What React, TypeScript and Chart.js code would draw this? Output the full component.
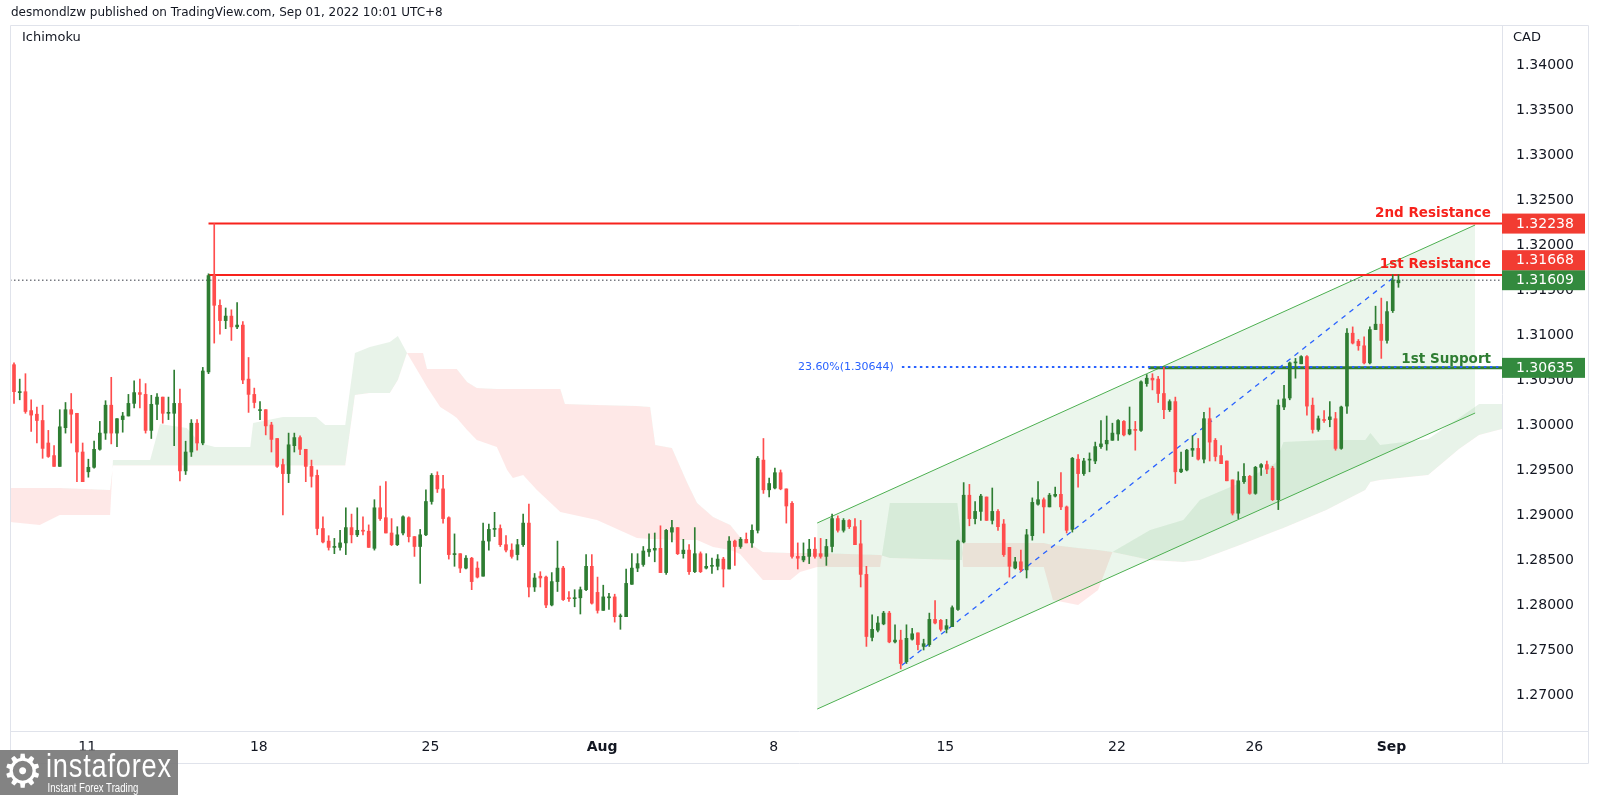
import React, { useEffect, useRef } from 'react';
import { Chart, registerables } from 'chart.js';

Chart.register(...registerables);

// ---------- Candles (USDCAD 4H) ----------
const opens = [
  1.3067, 1.3036, 1.3037, 1.3016, 1.3012, 1.3005, 1.2980, 1.2966, 1.2954, 1.2997,
  1.3017, 1.3013, 1.2970, 1.2948, 1.2953, 1.2973, 1.2991, 1.3022, 1.2991, 1.3006,
  1.3010, 1.3024, 1.3036, 1.3034, 1.2994, 1.3023, 1.3031, 1.3013, 1.3013, 1.3024,
  1.2949, 1.2970, 1.3002, 1.2980, 1.3059, 1.3166, 1.3133, 1.3116, 1.3121, 1.3109,
  1.3111, 1.3051, 1.3034, 1.3016, 1.3017, 1.3000, 1.2985, 1.2956, 1.2946, 1.2977,
  1.2986, 1.2973, 1.2954, 1.2944, 1.2885, 1.2871, 1.2864, 1.2864, 1.2869, 1.2886,
  1.2878, 1.2883, 1.2882, 1.2863, 1.2908, 1.2897, 1.2880, 1.2867, 1.2880, 1.2897,
  1.2876, 1.2865, 1.2878, 1.2915, 1.2944, 1.2929, 1.2897, 1.2856, 1.2857, 1.2841,
  1.2852, 1.2841, 1.2832, 1.2871, 1.2884, 1.2885, 1.2867, 1.2861, 1.2856, 1.2867,
  1.2891, 1.2820, 1.2832, 1.2831, 1.2800, 1.2826, 1.2841, 1.2808, 1.2807, 1.2808,
  1.2817, 1.2843, 1.2814, 1.2794, 1.2808, 1.2809, 1.2787, 1.2787, 1.2823, 1.2841,
  1.2845, 1.2859, 1.2861, 1.2863, 1.2836, 1.2881, 1.2886, 1.2857, 1.2861, 1.2837,
  1.2857, 1.2841, 1.2843, 1.2843, 1.2851, 1.2840, 1.2871, 1.2865, 1.2873, 1.2869,
  1.2883, 1.2961, 1.2928, 1.2930, 1.2947, 1.2929, 1.2913, 1.2854, 1.2850, 1.2854,
  1.2862, 1.2857, 1.2854, 1.2865, 1.2896, 1.2883, 1.2894, 1.2887, 1.2868, 1.2834,
  1.2764, 1.2772, 1.2779, 1.2791, 1.2759, 1.2761, 1.2737, 1.2762, 1.2769, 1.2754,
  1.2756, 1.2784, 1.2783, 1.2773, 1.2776, 1.2795, 1.2870, 1.2922, 1.2896, 1.2904,
  1.2920, 1.2894, 1.2904, 1.2890, 1.2864, 1.2841, 1.2848, 1.2839, 1.2877, 1.2912,
  1.2917, 1.2909, 1.2921, 1.2923, 1.2909, 1.2884, 1.2962, 1.2946, 1.2961, 1.2960,
  1.2976, 1.2979, 1.2983, 1.2990, 1.3004, 1.2990, 1.2995, 1.2994, 1.3046, 1.3052,
  1.3051, 1.3035, 1.3017, 1.3026, 1.2948, 1.2950, 1.2972, 1.2974, 1.2962, 1.3007,
  1.2983, 1.2966, 1.2960, 1.2939, 1.2902, 1.2937, 1.2943, 1.2924, 1.2953, 1.2956,
  1.2952, 1.2917, 1.3020, 1.3030, 1.3069, 1.3068, 1.3076, 1.3022, 1.2995, 1.3006,
  1.3006, 1.3007, 1.2974, 1.3021, 1.3102, 1.3093, 1.3088, 1.3069, 1.3106, 1.3112,
  1.3094, 1.3127, 1.3158,
];
const highs = [
  1.3069, 1.3051, 1.3057, 1.3028, 1.3020, 1.3022, 1.2994, 1.2977, 1.3017, 1.3025,
  1.3035, 1.3013, 1.2980, 1.2962, 1.2982, 1.3004, 1.3027, 1.3053, 1.3007, 1.3014,
  1.3034, 1.3049, 1.3051, 1.3046, 1.3033, 1.3035, 1.3031, 1.3031, 1.3061, 1.3040,
  1.2982, 1.3006, 1.3006, 1.3064, 1.3168, 1.32238, 1.3139, 1.3130, 1.3128, 1.3136,
  1.3115, 1.3075, 1.3041, 1.3026, 1.3017, 1.3003, 1.2985, 1.2962, 1.2991, 1.2991,
  1.2988, 1.2973, 1.2961, 1.2950, 1.2898, 1.2877, 1.2874, 1.2883, 1.2908, 1.2901,
  1.2908, 1.2898, 1.2889, 1.2917, 1.2932, 1.2937, 1.2896, 1.2887, 1.2899, 1.2898,
  1.2876, 1.2884, 1.2928, 1.2946, 1.2948, 1.2944, 1.2898, 1.2879, 1.2857, 1.2855,
  1.2853, 1.2848, 1.2891, 1.2890, 1.2903, 1.2889, 1.2877, 1.2868, 1.2873, 1.2901,
  1.2912, 1.2835, 1.2837, 1.2832, 1.2836, 1.2871, 1.2843, 1.2815, 1.2817, 1.2820,
  1.2856, 1.2856, 1.2831, 1.2822, 1.2813, 1.2812, 1.2790, 1.2840, 1.2857, 1.2857,
  1.2865, 1.2879, 1.2880, 1.2888, 1.2884, 1.2894, 1.2886, 1.2873, 1.2867, 1.2886,
  1.2859, 1.2857, 1.2852, 1.2856, 1.2853, 1.2876, 1.2872, 1.2875, 1.2880, 1.2889,
  1.2965, 1.2985, 1.2941, 1.2952, 1.2950, 1.2929, 1.2915, 1.2869, 1.2869, 1.2873,
  1.2875, 1.2874, 1.2873, 1.2901, 1.2899, 1.2896, 1.2895, 1.2896, 1.2894, 1.2843,
  1.2789, 1.2787, 1.2793, 1.2793, 1.2778, 1.2772, 1.2778, 1.2774, 1.2769, 1.2762,
  1.2791, 1.2805, 1.2784, 1.2784, 1.2799, 1.2872, 1.2936, 1.2934, 1.2915, 1.2923,
  1.2920, 1.2930, 1.2906, 1.2895, 1.2864, 1.2853, 1.2861, 1.2884, 1.2919, 1.2937,
  1.2919, 1.2924, 1.2931, 1.2947, 1.2910, 1.2964, 1.2967, 1.2963, 1.2969, 1.2981,
  1.3005, 1.3010, 1.3002, 1.3006, 1.3005, 1.3020, 1.3004, 1.3049, 1.3056, 1.3057,
  1.3054, 1.3064, 1.3028, 1.3031, 1.2970, 1.2973, 1.2988, 1.2985, 1.3014, 1.3019,
  1.2985, 1.2977, 1.2960, 1.2939, 1.2948, 1.2957, 1.2944, 1.2954, 1.2957, 1.2960,
  1.2954, 1.3028, 1.3044, 1.3070, 1.3074, 1.3077, 1.3077, 1.3030, 1.3010, 1.3016,
  1.3026, 1.3014, 1.3021, 1.3107, 1.3109, 1.3095, 1.3098, 1.3109, 1.3132, 1.3141,
  1.3137, 1.3167, 1.3167,
];
const lows = [
  1.3024, 1.3028, 1.3013, 1.2993, 1.2980, 1.2963, 1.2964, 1.2954, 1.2954, 1.2991,
  1.2980, 1.2937, 1.2937, 1.2942, 1.2952, 1.2972, 1.2984, 1.2979, 1.2976, 1.2992,
  1.3010, 1.3019, 1.3019, 1.2991, 1.2985, 1.3006, 1.3002, 1.3006, 1.2977, 1.2938,
  1.2945, 1.2965, 1.2972, 1.2978, 1.3057, 1.3091, 1.3101, 1.3107, 1.3094, 1.3107,
  1.3046, 1.3014, 1.3019, 1.3006, 1.2989, 1.2970, 1.2953, 1.2900, 1.2936, 1.2970,
  1.2967, 1.2937, 1.2931, 1.2878, 1.2869, 1.2861, 1.2857, 1.2861, 1.2856, 1.2869,
  1.2876, 1.2878, 1.2864, 1.2861, 1.2894, 1.2880, 1.2866, 1.2866, 1.2878, 1.2870,
  1.2854, 1.2824, 1.2877, 1.2912, 1.2925, 1.2891, 1.2851, 1.2843, 1.2836, 1.2840,
  1.2817, 1.2830, 1.2832, 1.2861, 1.2876, 1.2865, 1.2859, 1.2852, 1.2850, 1.2865,
  1.2809, 1.2815, 1.2820, 1.2797, 1.2799, 1.2815, 1.2805, 1.2804, 1.2798, 1.2790,
  1.2816, 1.2801, 1.2791, 1.2794, 1.2795, 1.2781, 1.2773, 1.2787, 1.2823, 1.2837,
  1.2843, 1.2854, 1.2848, 1.2836, 1.2834, 1.2870, 1.2856, 1.2852, 1.2834, 1.2836,
  1.2836, 1.2840, 1.2835, 1.2839, 1.2820, 1.2840, 1.2844, 1.2863, 1.2869, 1.2864,
  1.2880, 1.2924, 1.2920, 1.2929, 1.2928, 1.2891, 1.2852, 1.2840, 1.2848, 1.2846,
  1.2852, 1.2852, 1.2844, 1.2859, 1.2881, 1.2881, 1.2885, 1.2867, 1.2820, 1.2754,
  1.2760, 1.2770, 1.2778, 1.2758, 1.2758, 1.2729, 1.2735, 1.2761, 1.2750, 1.2750,
  1.2754, 1.2779, 1.2771, 1.2769, 1.2776, 1.2794, 1.2869, 1.2888, 1.2890, 1.2894,
  1.2894, 1.2890, 1.2883, 1.2854, 1.2831, 1.2840, 1.2837, 1.2830, 1.2872, 1.2911,
  1.2880, 1.2909, 1.2920, 1.2906, 1.2880, 1.2881, 1.2931, 1.2944, 1.2948, 1.2957,
  1.2974, 1.2972, 1.2983, 1.2983, 1.2988, 1.2989, 1.2972, 1.2993, 1.3043, 1.3039,
  1.3025, 1.3007, 1.3015, 1.2935, 1.2947, 1.2949, 1.2965, 1.2961, 1.2958, 1.2960,
  1.2960, 1.2957, 1.2938, 1.2900, 1.2896, 1.2935, 1.2923, 1.2923, 1.2944, 1.2946,
  1.2916, 1.2906, 1.3017, 1.3028, 1.3052, 1.3068, 1.3011, 1.2991, 1.2993, 1.3003,
  1.2998, 1.2972, 1.2973, 1.3013, 1.3090, 1.3083, 1.3068, 1.3068, 1.3106, 1.3074,
  1.3091, 1.3125, 1.3153,
];
const closes = [
  1.3037, 1.3037, 1.3015, 1.3011, 1.3005, 1.2974, 1.2965, 1.2954, 1.2998, 1.3017,
  1.3012, 1.2970, 1.2937, 1.2953, 1.2973, 1.2991, 1.3022, 1.2991, 1.3007, 1.3010,
  1.3024, 1.3036, 1.3034, 1.2994, 1.3023, 1.3031, 1.3013, 1.3014, 1.3024, 1.2949,
  1.2970, 1.3002, 1.2980, 1.3060, 1.3166, 1.3133, 1.3116, 1.3121, 1.3109, 1.3111,
  1.3050, 1.3034, 1.3025, 1.3017, 1.2999, 1.2984, 1.2954, 1.2946, 1.2978, 1.2986,
  1.2973, 1.2954, 1.2943, 1.2885, 1.2870, 1.2864, 1.2865, 1.2869, 1.2886, 1.2878,
  1.2883, 1.2882, 1.2864, 1.2908, 1.2896, 1.2880, 1.2867, 1.2878, 1.2898, 1.2876,
  1.2865, 1.2878, 1.2915, 1.2944, 1.2929, 1.2896, 1.2856, 1.2857, 1.2841, 1.2852,
  1.2826, 1.2831, 1.2871, 1.2884, 1.2885, 1.2867, 1.2861, 1.2854, 1.2867, 1.2891,
  1.2820, 1.2830, 1.2830, 1.2800, 1.2826, 1.2841, 1.2806, 1.2807, 1.2808, 1.2817,
  1.2843, 1.2802, 1.2794, 1.2809, 1.2809, 1.2787, 1.2788, 1.2824, 1.2841, 1.2846,
  1.2860, 1.2862, 1.2863, 1.2836, 1.2883, 1.2886, 1.2857, 1.2861, 1.2837, 1.2857,
  1.2837, 1.2843, 1.2844, 1.2851, 1.2840, 1.2871, 1.2865, 1.2873, 1.2869, 1.2883,
  1.2963, 1.2928, 1.2935, 1.2947, 1.2929, 1.2910, 1.2854, 1.2852, 1.2854, 1.2862,
  1.2854, 1.2854, 1.2865, 1.2896, 1.2883, 1.2894, 1.2887, 1.2867, 1.2834, 1.2765,
  1.2773, 1.2780, 1.2791, 1.2759, 1.2761, 1.2735, 1.2763, 1.2768, 1.2756, 1.2757,
  1.2784, 1.2780, 1.2773, 1.2777, 1.2797, 1.2871, 1.2922, 1.2896, 1.2904, 1.2921,
  1.2894, 1.2904, 1.2887, 1.2856, 1.2843, 1.2848, 1.2839, 1.2878, 1.2914, 1.2917,
  1.2909, 1.2922, 1.2923, 1.2909, 1.2883, 1.2963, 1.2946, 1.2960, 1.2962, 1.2976,
  1.2979, 1.2983, 1.2991, 1.3005, 1.2989, 1.2995, 1.2994, 1.3048, 1.3052, 1.3050,
  1.3035, 1.3017, 1.3026, 1.2948, 1.2951, 1.2972, 1.2974, 1.2962, 1.3007, 1.2981,
  1.2965, 1.2957, 1.2938, 1.2902, 1.2938, 1.2943, 1.2924, 1.2953, 1.2956, 1.2951,
  1.2917, 1.3022, 1.3029, 1.3069, 1.3070, 1.3076, 1.3021, 1.2995, 1.3007, 1.3005,
  1.3009, 1.2974, 1.3020, 1.3102, 1.3091, 1.3088, 1.3069, 1.3106, 1.3112, 1.3094,
  1.3126, 1.3161, 1.31609,
];

// ---------- Ichimoku cloud (bar index, Senkou A, Senkou B) ----------
const cloudIdx = [
  -0.7, 4.5, 8.0, 16.8, 17.3, 23.8, 25.5, 30.2, 32.5, 35.1, 41.3, 41.8, 47.0, 52.8, 54.4, 57.9,
  59.6, 62.2, 65.7, 67.1, 68.7, 71.5, 72.2, 74.5, 76.7, 77.4, 79.2, 80.9, 84.4, 86.2, 87.2, 89.0,
  91.4, 95.5, 96.3, 101.9, 108.9, 111.2, 112.1, 115.0, 117.7, 119.4, 122.2, 125.2, 126.9, 130.9,
  135.7, 137.4, 140.4, 151.4, 153.1, 164.9, 165.7, 165.9, 180.0, 181.6, 186.0, 189.5, 192.0,
  198.6, 204.4, 207.3, 214.3, 220.5, 221.9, 229.4, 236.2, 237.1, 238.8, 247.2, 252.6, 256.1, 260.1,
];
const spanA = [
  1.28922, 1.28889, 1.29, 1.29, 1.29611, 1.29611, 1.30011, 1.29967, 1.298, 1.29756, 1.29756, 1.30022, 1.30089, 1.30089, 1.3, 1.3,
  1.308, 1.30867, 1.30922, 1.30989, 1.308, 1.305, 1.30422, 1.302, 1.30111, 1.30078, 1.29944, 1.29833, 1.29756, 1.295, 1.29411, 1.29444,
  1.29278, 1.29033, 1.29022, 1.28944, 1.28744, 1.28733, 1.28733, 1.28722, 1.28722, 1.28722, 1.28644, 1.28611, 1.28567, 1.28278,
  1.28278, 1.28367, 1.28422, 1.28422, 1.29133, 1.29133, 1.28667, 1.28422, 1.28422, 1.28056, 1.28, 1.28167, 1.28589,
  1.28833, 1.28944, 1.29167, 1.29356, 1.29578, 1.29811, 1.29833, 1.29833, 1.29911, 1.29778, 1.29844, 1.30078, 1.30233, 1.30233,
];
const spanB = [
  1.293, 1.293, 1.293, 1.29278, 1.2955, 1.2955, 1.2955, 1.2955, 1.2955, 1.2955, 1.2955, 1.2955, 1.2955, 1.2955, 1.2955, 1.2955,
  1.30333, 1.30356, 1.30356, 1.305, 1.308, 1.308, 1.30622, 1.30622, 1.30622, 1.30622, 1.30478, 1.30411, 1.304, 1.304, 1.304, 1.304,
  1.304, 1.304, 1.30233, 1.30222, 1.30211, 1.302, 1.29778, 1.29744, 1.29356, 1.29133, 1.28978, 1.28889, 1.28756, 1.28589,
  1.28578, 1.28578, 1.28578, 1.28556, 1.28522, 1.285, 1.285, 1.28689, 1.28689, 1.28667, 1.28633, 1.28611, 1.28589,
  1.285, 1.28478, 1.285, 1.28667, 1.28822, 1.28856, 1.29056, 1.29278, 1.29367, 1.29389, 1.29444, 1.29733, 1.29889, 1.29956,
];

// ---------- Drawings ----------
const channelIdx = [140.4, 255.4];
const channelTop = [1.28911, 1.32222];
const channelBottom = [1.26844, 1.30133];
const fibTrendIdx = [155.2, 241.7];
const fibTrendPrice = [1.2733, 1.31667];
const resistance2 = 1.32238;
const resistance1 = 1.31668;
const support1 = 1.30635;
const lastPrice = 1.31609;
const fibLevel = 1.30644;
const resistanceStartIdx = 34;
const supportStartIdx = 198.3;
const fibStartIdx = 155.2;

// ---------- Axes ----------
const xMin = -0.7;
const xMax = 260.1;
const yMin = 1.266;
const yMax = 1.344444;
const yTicks = [1.27, 1.275, 1.28, 1.285, 1.29, 1.295, 1.3, 1.305, 1.31, 1.315, 1.32, 1.325, 1.33, 1.335, 1.34];
const xTickIdx = [12.8, 42.8, 72.8, 102.8, 132.8, 162.8, 192.8, 216.8, 240.8];
const xTickLabels = ['11', '18', '25', 'Aug', '8', '15', '22', '26', 'Sep'];

const FONT = '"DejaVu Sans", Verdana, sans-serif';
const C_GREEN = '#2e7d32';
const C_RED = '#ff4d4d';
const LINE_RED = '#f7221c';
const BOX_RED = '#f23c32';
const BOX_GREEN = '#338a3e';
const TEXT = '#131722';

function hline(level: number, from: number, to: number) {
  return [{ x: from, y: level }, { x: to, y: level }];
}

const overlayPlugin = {
  id: 'overlay',
  afterDraw(chart: any) {
    const { ctx, chartArea } = chart;
    const ys = chart.scales.y;
    const xs = chart.scales.x;
    ctx.save();
    // frame
    ctx.strokeStyle = '#e0e3eb';
    ctx.lineWidth = 1;
    ctx.beginPath();
    ctx.moveTo(10.5, 25.5); ctx.lineTo(1588.5, 25.5);
    ctx.moveTo(10.5, 25.5); ctx.lineTo(10.5, 763.5);
    ctx.moveTo(1588.5, 25.5); ctx.lineTo(1588.5, 763.5);
    ctx.moveTo(10.5, 763.5); ctx.lineTo(1588.5, 763.5);
    ctx.moveTo(chartArea.right + 0.5, 25.5); ctx.lineTo(chartArea.right + 0.5, 763.5);
    ctx.moveTo(10.5, chartArea.bottom + 0.5); ctx.lineTo(1588.5, chartArea.bottom + 0.5);
    ctx.stroke();

    // header texts
    ctx.fillStyle = TEXT;
    ctx.textBaseline = 'middle';
    ctx.textAlign = 'left';
    ctx.font = `12px ${FONT}`;
    ctx.fillText('desmondlzw published on TradingView.com, Sep 01, 2022 10:01 UTC+8', 11, 13);
    ctx.font = `13px ${FONT}`;
    ctx.fillText('Ichimoku', 22, 38);
    ctx.fillText('CAD', 1513, 38);

    // level labels
    const right = chartArea.right - 11;
    ctx.textAlign = 'right';
    ctx.textBaseline = 'alphabetic';
    ctx.font = `bold 13.5px ${FONT}`;
    ctx.fillStyle = LINE_RED;
    ctx.fillText('2nd Resistance', right, ys.getPixelForValue(resistance2) - 7);
    ctx.fillText('1st Resistance', right, ys.getPixelForValue(resistance1) - 7);
    ctx.fillStyle = C_GREEN;
    ctx.fillText('1st Support', right, ys.getPixelForValue(support1) - 5);

    // fib label
    ctx.textAlign = 'left';
    ctx.textBaseline = 'middle';
    ctx.font = `11px ${FONT}`;
    ctx.fillStyle = '#2962ff';
    ctx.fillText('23.60%(1.30644)', xs.getPixelForValue(fibStartIdx) - 104, ys.getPixelForValue(fibLevel));

    // axis price boxes
    const box = (val: number, cy: number, color: string) => {
      ctx.fillStyle = color;
      ctx.fillRect(chartArea.right, cy - 10, 83, 20);
      ctx.fillStyle = '#ffffff';
      ctx.font = `14px ${FONT}`;
      ctx.textAlign = 'left';
      ctx.textBaseline = 'middle';
      ctx.fillText(val.toFixed(5), chartArea.right + 14, cy + 0.5);
    };
    const yLast = ys.getPixelForValue(lastPrice);
    box(resistance2, ys.getPixelForValue(resistance2), BOX_RED);
    box(lastPrice, yLast, BOX_GREEN);
    box(resistance1, Math.min(ys.getPixelForValue(resistance1), yLast - 20), BOX_RED);
    box(support1, ys.getPixelForValue(support1), BOX_GREEN);
    ctx.restore();
  },
};

export default function App() {
  const ref = useRef<HTMLCanvasElement>(null);
  useEffect(() => {
    document.body.style.margin = '0';
    const canvas = ref.current;
    if (!canvas) return;
    const colors = opens.map((o, i) => (closes[i] >= o ? C_GREEN : C_RED));
    const bodies = opens.map((o, i) => ({ x: i, y: [o, closes[i]] }));
    const wicks = opens.map((_, i) => ({ x: i, y: [lows[i], highs[i]] }));
    const pts = (xsArr: number[], ysArr: number[]) => xsArr.map((x, i) => ({ x, y: ysArr[i] }));
    const lineBase = { type: 'line', pointRadius: 0, pointHoverRadius: 0, tension: 0, fill: false };

    const chart = new Chart(canvas, {
      type: 'bar',
      data: {
        datasets: [
          {
            ...lineBase,
            data: pts(cloudIdx, spanA),
            borderWidth: 0,
            borderColor: 'rgba(0,0,0,0)',
            fill: { target: '+1', above: 'rgba(67,160,71,0.12)', below: 'rgba(244,67,54,0.12)' },
            order: 20,
          },
          {
            ...lineBase,
            data: pts(cloudIdx, spanB),
            borderWidth: 0,
            borderColor: 'rgba(0,0,0,0)',
            order: 20,
          },
          {
            ...lineBase,
            data: pts(channelIdx, channelTop),
            borderColor: '#4caf50',
            borderWidth: 1,
            order: 15,
          },
          {
            ...lineBase,
            data: pts(channelIdx, channelBottom),
            borderColor: '#4caf50',
            borderWidth: 1,
            fill: { target: '-1' },
            backgroundColor: 'rgba(76,175,80,0.11)',
            order: 15,
          },
          {
            ...lineBase,
            data: hline(lastPrice, xMin, xMax),
            borderColor: '#363a45',
            borderWidth: 1,
            borderDash: [1.5, 2.5],
            order: 12,
          },
          {
            ...lineBase,
            data: hline(resistance2, resistanceStartIdx, xMax),
            borderColor: LINE_RED,
            borderWidth: 2,
            order: 6,
          },
          {
            ...lineBase,
            data: hline(resistance1, resistanceStartIdx, xMax),
            borderColor: LINE_RED,
            borderWidth: 2,
            order: 6,
          },
          {
            ...lineBase,
            data: hline(support1, supportStartIdx, xMax),
            borderColor: C_GREEN,
            borderWidth: 3,
            order: 6,
          },
          {
            ...lineBase,
            data: hline(fibLevel, fibStartIdx, xMax),
            borderColor: '#2962ff',
            borderWidth: 2,
            borderDash: [2.5, 3.5],
            order: 5,
          },
          {
            ...lineBase,
            data: pts(fibTrendIdx, fibTrendPrice),
            borderColor: '#2962ff',
            borderWidth: 1.3,
            borderDash: [5, 5],
            order: 5,
          },
          {
            type: 'bar',
            data: wicks,
            backgroundColor: colors,
            borderWidth: 0,
            barThickness: 1,
            grouped: false,
            order: 3,
          },
          {
            type: 'bar',
            data: bodies,
            backgroundColor: colors,
            borderWidth: 0,
            barThickness: 3,
            minBarLength: 1,
            grouped: false,
            order: 2,
          },
        ] as any,
      },
      options: {
        responsive: false,
        maintainAspectRatio: false,
        animation: false,
        events: [],
        layout: { padding: { left: 10, top: 25, right: 12, bottom: 32 } },
        plugins: { legend: { display: false }, tooltip: { enabled: false } },
        scales: {
          x: {
            type: 'linear',
            min: xMin,
            max: xMax,
            offset: false,
            grid: { display: false, drawTicks: false, offset: false },
            border: { display: false },
            afterFit: (s: any) => { s.height = 32; },
            afterBuildTicks: (s: any) => { s.ticks = xTickIdx.map((v) => ({ value: v })); },
            ticks: {
              autoSkip: false,
              maxRotation: 0,
              padding: 8,
              color: TEXT,
              font: (c: any) => ({
                family: FONT,
                size: 14,
                weight: xTickLabels[c.index] === 'Aug' || xTickLabels[c.index] === 'Sep' ? 'bold' : 'normal',
              }),
              callback: (_v: any, i: number) => xTickLabels[i] ?? '',
            },
          },
          y: {
            type: 'linear',
            position: 'right',
            min: yMin,
            max: yMax,
            grid: { display: false, drawTicks: false },
            border: { display: false },
            afterFit: (s: any) => { s.width = 86; },
            afterBuildTicks: (s: any) => { s.ticks = yTicks.map((v) => ({ value: v })); },
            ticks: {
              padding: 14,
              color: TEXT,
              font: { family: FONT, size: 14 },
              callback: (v: any) => Number(v).toFixed(5),
            },
          },
        },
      } as any,
      plugins: [overlayPlugin],
    } as any);
    return () => chart.destroy();
  }, []);

  return (
    <div style={{ position: 'relative', width: 1600, height: 795, background: '#ffffff', overflow: 'hidden' }}>
      <canvas ref={ref} width={1600} height={795} style={{ display: 'block', width: 1600, height: 795 }} />
      <div
        style={{
          position: 'absolute', left: 0, top: 750, width: 178, height: 45,
          background: 'rgba(120,120,120,0.92)', color: '#ffffff', overflow: 'hidden',
          fontFamily: '"Liberation Sans", Arial, sans-serif',
        }}
      >
        <span style={{ position: 'absolute', left: 2, top: -4, fontSize: 46, lineHeight: '50px', fontFamily: '"DejaVu Sans", sans-serif' }}>⚙</span>
        <div style={{ position: 'absolute', left: 46, top: -2, transform: 'scaleX(0.8)', transformOrigin: 'left top', whiteSpace: 'nowrap' }}>
          <div style={{ fontSize: 34, lineHeight: '34px', letterSpacing: 1 }}>instaforex</div>
          <div style={{ fontSize: 12, lineHeight: '12px', marginLeft: 2 }}>Instant Forex Trading</div>
        </div>
      </div>
    </div>
  );
}
